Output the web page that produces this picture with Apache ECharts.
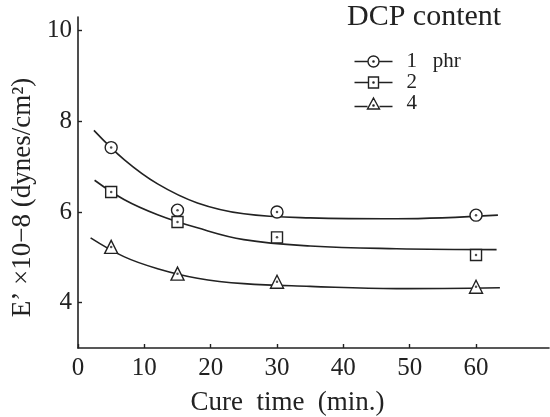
<!DOCTYPE html>
<html>
<head>
<meta charset="utf-8">
<script src="https://cdn.jsdelivr.net/npm/echarts@6/dist/echarts.min.js"></script>
<style>
  html, body { margin: 0; padding: 0; background: #fff; }
  #chart { width: 550px; height: 417px; }
</style>
</head>
<body>
<div id="chart"></div>
<script>
// measured points (cure time, min.)
var cureTime = [5, 15, 30, 60];
var phr1 = [7.42, 6.04, 6.0, 5.93];
var phr2 = [6.44, 5.78, 5.44, 5.05];
var phr4 = [5.23, 4.64, 4.46, 4.35];

// hand drawn curves
var curveX1 = [2.4, 7, 12, 18, 25, 35, 48, 63.3];
var curve1  = [7.8, 7.15, 6.62, 6.2, 5.96, 5.87, 5.85, 5.93];
var curveX2 = [2.5, 7, 12, 18, 25, 35, 48, 63.1];
var curve2  = [6.70, 6.27, 5.94, 5.65, 5.39, 5.25, 5.19, 5.17];
var curveX3 = [1.9, 7, 12, 18, 25, 35, 48, 63.6];
var curve3  = [5.43, 5.01, 4.75, 4.54, 4.42, 4.36, 4.31, 4.33];

var xTicks = [0, 10, 20, 30, 40, 50, 60];
var yTicks = [4, 6, 8, 10];
var seriesNames = ['1   phr', '2', '4'];

var ink = '#222';
var font = 'Liberation Serif';

function pairs(xs, ys) {
	var out = [];
	for (var i = 0; i < xs.length; i++) out.push([xs[i], ys[i]]);
	return out;
}

function curve(xs, ys) {
	return {
		type: 'line', data: pairs(xs, ys), smooth: 0.4,
		showSymbol: false, silent: true, z: 1,
		lineStyle: { color: ink, width: 1.6 }
	};
}

function marks(name, ys, symbol, size) {
	return {
		type: 'scatter', name: name, data: pairs(cureTime, ys), z: 3,
		symbol: symbol, symbolSize: size,
		itemStyle: { color: '#fff', borderColor: ink, borderWidth: 1.4, opacity: 1 }
	};
}

function dots(ys) {
	return {
		type: 'scatter', data: pairs(cureTime, ys), z: 4, silent: true,
		symbol: 'circle', symbolSize: 2.5, itemStyle: { color: ink }
	};
}

// legend icons: line - symbol - line
var iconCircle = 'path://M0 6L13 6M25 6L38 6M24.5 6A5.5 5.5 0 1 1 13.5 6A5.5 5.5 0 1 1 24.5 6ZM19.6 6A0.6 0.6 0 1 1 18.4 6A0.6 0.6 0 1 1 19.6 6Z';
var iconRect = 'path://M0 6L14 6M24 6L38 6M14 0.5L24 0.5L24 11.5L14 11.5ZM19.6 6A0.6 0.6 0 1 1 18.4 6A0.6 0.6 0 1 1 19.6 6Z';
var iconTri = 'path://M0 9L13 9M25 9L38 9M19 0.5L25 11.5L13 11.5ZM19.6 8A0.6 0.6 0 1 1 18.4 8A0.6 0.6 0 1 1 19.6 8Z';

var legendStyle = { color: 'none', borderColor: ink, borderWidth: 1.4 };

var option = {
	backgroundColor: '#fff',
	animation: false,
	title: {
		text: 'DCP content', left: 347, top: 2, padding: 0,
		textStyle: { fontFamily: font, fontSize: 30, fontWeight: 'normal', color: ink }
	},
	legend: {
		orient: 'vertical', left: 352, top: 51, padding: 0,
		itemWidth: 38, itemHeight: 11, itemGap: 0,
		textStyle: { fontFamily: font, fontSize: 21, color: ink, padding: [0, 0, 0, 9] },
		data: [
			{ name: seriesNames[0], icon: iconCircle, itemStyle: legendStyle },
			{ name: seriesNames[1], icon: iconRect, itemStyle: legendStyle },
			{ name: seriesNames[2], icon: iconTri, itemStyle: legendStyle }
		]
	},
	grid: { left: 78, right: 1, top: 17, bottom: 69, outerBoundsMode: 'none' },
	xAxis: {
		type: 'value', min: 0, max: 71,
		name: 'Cure  time  (min.)', nameLocation: 'middle', nameGap: 41,
		nameTextStyle: { fontFamily: font, fontSize: 27, color: ink, padding: [0, 52, 0, 0] },
		splitLine: { show: false },
		axisLine: { lineStyle: { color: ink, width: 1.6 } },
		axisTick: { inside: true, length: 4, customValues: xTicks, lineStyle: { color: ink, width: 1.4 } },
		axisLabel: { customValues: xTicks, margin: 8, fontFamily: font, fontSize: 25, color: ink }
	},
	yAxis: {
		type: 'value', min: 3, max: 10.3,
		name: 'E’ ×10−8 (dynes/cm²)', nameLocation: 'middle', nameGap: 42, nameRotate: 90,
		nameTextStyle: { fontFamily: font, fontSize: 27, color: ink, padding: [0, 30, 0, 0] },
		splitLine: { show: false },
		axisLine: { show: true, lineStyle: { color: ink, width: 1.6 } },
		axisTick: { show: true, inside: true, length: 4, customValues: yTicks, lineStyle: { color: ink, width: 1.4 } },
		axisLabel: { customValues: yTicks, margin: 6, fontFamily: font, fontSize: 25, color: ink }
	},
	series: [
		curve(curveX1, curve1),
		curve(curveX2, curve2),
		curve(curveX3, curve3),
		marks(seriesNames[0], phr1, 'circle', 12),
		marks(seriesNames[1], phr2, 'rect', 11),
		marks(seriesNames[2], phr4, 'triangle', 13),
		dots(phr1),
		dots(phr2),
		dots(phr4)
	]
};

var chart = echarts.init(document.getElementById('chart'));
chart.setOption(option);
</script>
</body>
</html>
